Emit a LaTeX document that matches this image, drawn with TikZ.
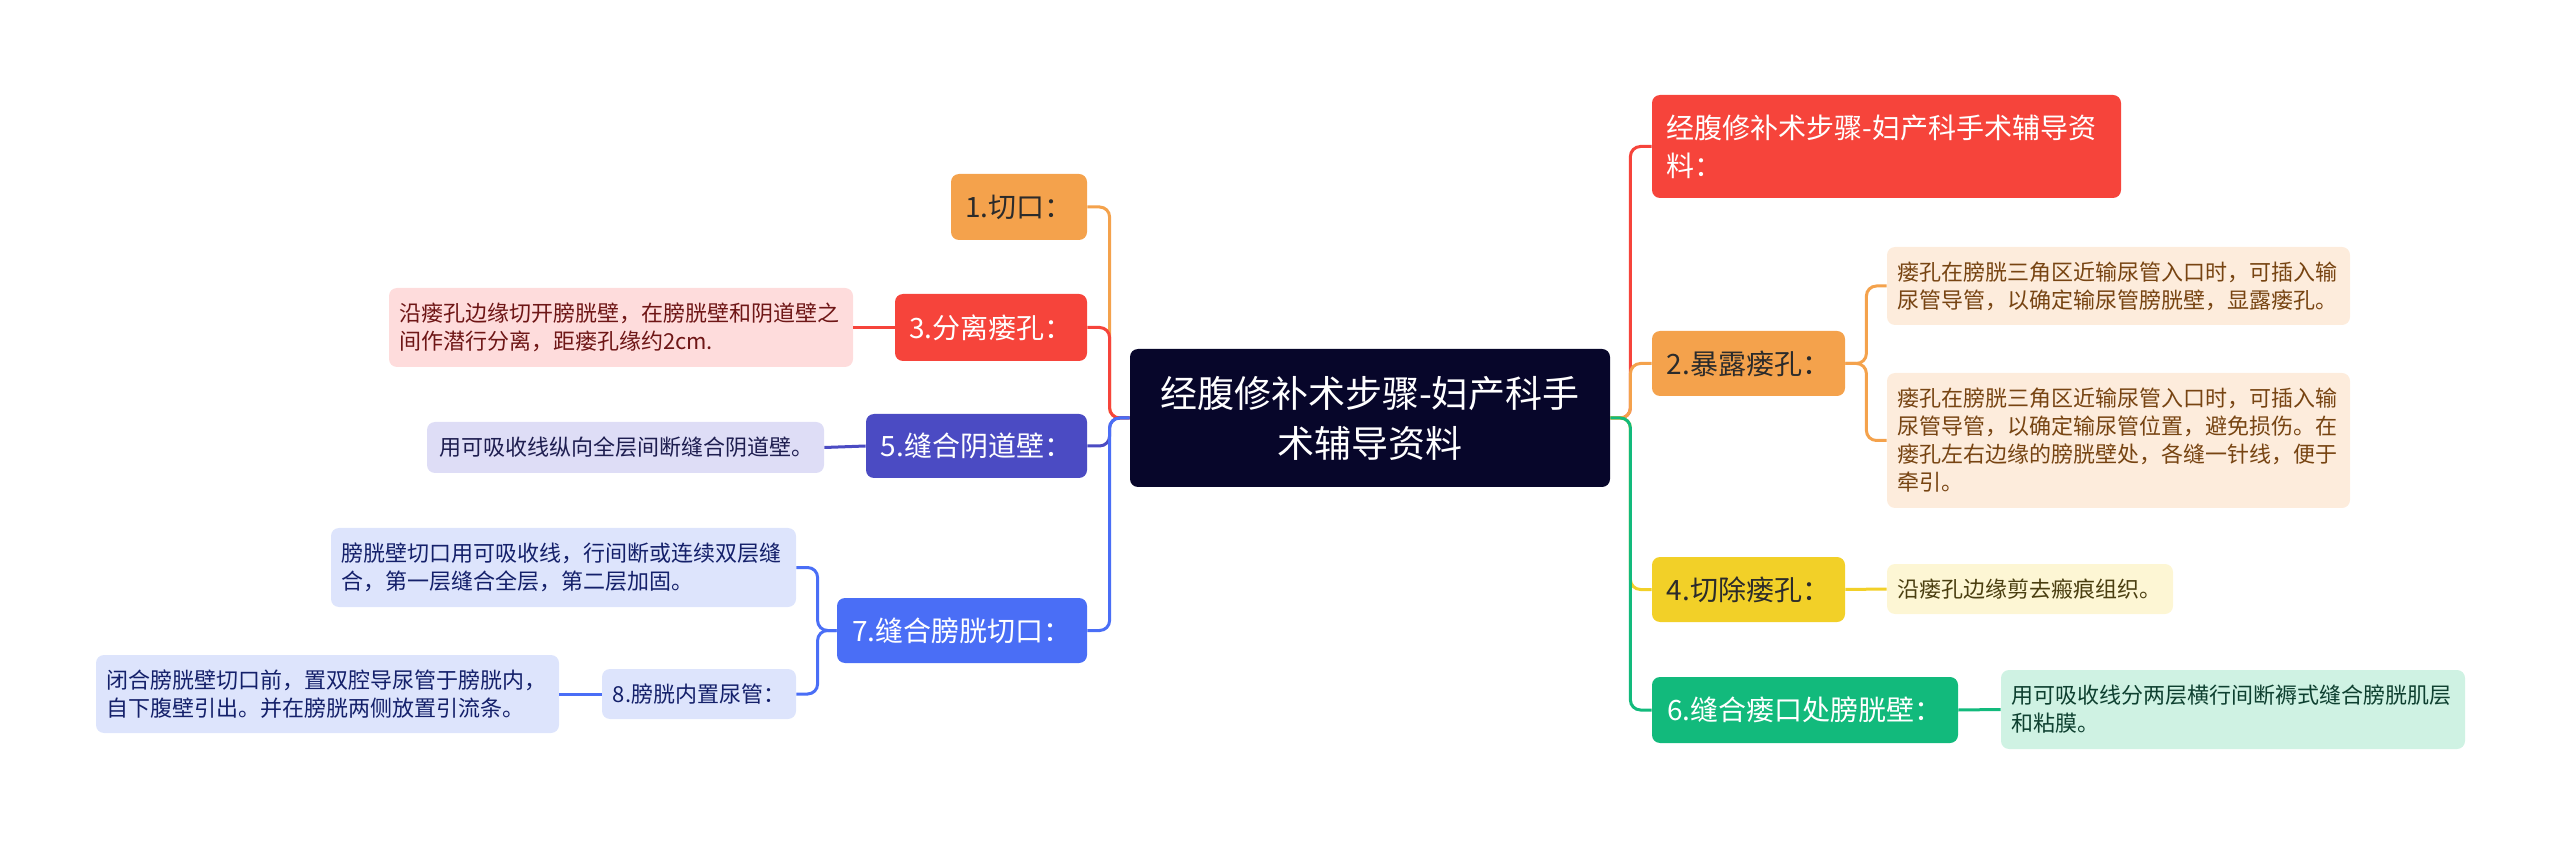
\documentclass[tikz,border=0pt]{standalone}
\usepackage{fontspec}
\setmainfont{Noto Sans CJK SC}
\definecolor{rootc}{HTML}{07062A}
\definecolor{orangec}{HTML}{F4A24C}
\definecolor{redc}{HTML}{F6443B}
\definecolor{indigoc}{HTML}{4B4BC3}
\definecolor{bluec}{HTML}{4A6EF6}
\definecolor{yellowc}{HTML}{F2D028}
\definecolor{greenc}{HTML}{12BA7C}
\definecolor{pinkc}{HTML}{FEDCDC}
\definecolor{lavc}{HTML}{DEDDF6}
\definecolor{lbluec}{HTML}{DDE4FC}
\definecolor{peachc}{HTML}{FDECDC}
\definecolor{lyelc}{HTML}{FDF6D4}
\definecolor{mintc}{HTML}{CFF2E3}
\definecolor{darkt}{HTML}{2B2B2B}
\definecolor{redt}{HTML}{6E1616}
\definecolor{indt}{HTML}{1E1E50}
\definecolor{bluet}{HTML}{14206A}
\definecolor{brownt}{HTML}{774412}
\definecolor{olivet}{HTML}{4A3E10}
\definecolor{greent}{HTML}{0E4030}
\begin{document}
\begin{tikzpicture}[x=0.5pt,y=-0.5pt,
  box/.style={rounded corners=4pt, inner sep=0pt, draw=none},
  leaf/.style={box, font=\fontsize{11}{14}\selectfont, align=left},
  lone/.style={box, font=\fontsize{14}{19}\selectfont, align=center},
  conn/.style={line width=1.5pt, rounded corners=5pt}]
\useasboundingbox (0,0) rectangle (2560,844);
% root
\node[box, fill=rootc, text=white, font=\fontsize{18.5}{25}\selectfont, align=center,
  minimum width=240pt, minimum height=69pt] (root) at (1370,418) {经腹修补术步骤-妇产科手\\术辅导资料};
% left level 1
\node[lone, fill=orangec, text=darkt, minimum width=68pt, minimum height=33pt] (n1) at (1019,207) {1.切口：};
\node[lone, fill=redc, text=white, minimum width=96pt, minimum height=33.5pt] (n3) at (991,327.5) {3.分离瘘孔：};
\node[lone, fill=indigoc, text=white, minimum width=110.5pt, minimum height=32pt] (n5) at (976.5,446) {5.缝合阴道壁：};
\node[lone, fill=bluec, text=white, minimum width=125pt, minimum height=32.5pt] (n7) at (962,630.5) {7.缝合膀胱切口：};
% left leaves
\node[leaf, fill=pinkc, text=redt, minimum width=232pt, text width=222pt, minimum height=39.5pt] (l3) at (621,327.5) {沿瘘孔边缘切开膀胱壁，在膀胱壁和阴道壁之\\间作潜行分离，距瘘孔缘约2cm.};
\node[leaf, fill=lavc, text=indt, minimum width=198.5pt, text width=186pt, minimum height=25.5pt] (l5) at (625.5,447.5) {用可吸收线纵向全层间断缝合阴道壁。};
\node[leaf, fill=lbluec, text=bluet, minimum width=232.5pt, text width=222.5pt, minimum height=39.5pt] (l7a) at (563.5,567.5) {膀胱壁切口用可吸收线，行间断或连续双层缝\\合，第一层缝合全层，第二层加固。};
\node[box, fill=lbluec, text=bluet, font=\fontsize{11}{14}\selectfont, minimum width=97pt, minimum height=25pt] (n8) at (699,694) {8.膀胱内置尿管：};
\node[leaf, fill=lbluec, text=bluet, minimum width=231.5pt, text width=221.5pt, minimum height=39pt] (l8) at (327.5,694) {闭合膀胱壁切口前，置双腔导尿管于膀胱内，\\自下腹壁引出。并在膀胱两侧放置引流条。};
% right level 1
\node[box, fill=redc, text=white, font=\fontsize{14}{19}\selectfont, align=left,
  minimum width=234.5pt, text width=220pt, minimum height=51.5pt] (nr) at (1886.5,146.5) {经腹修补术步骤-妇产科手术辅导资\\料：};
\node[lone, fill=orangec, text=darkt, minimum width=96.5pt, minimum height=32.5pt] (n2) at (1748.5,363.5) {2.暴露瘘孔：};
\node[lone, fill=yellowc, text=darkt, minimum width=96.5pt, minimum height=32.5pt] (n4) at (1748.5,589.5) {4.切除瘘孔：};
\node[lone, fill=greenc, text=white, minimum width=153pt, minimum height=33pt] (n6) at (1805,710) {6.缝合瘘口处膀胱壁：};
% right leaves
\node[leaf, fill=peachc, text=brownt, minimum width=231.5pt, text width=221.5pt, minimum height=39pt] (l2a) at (2118.5,286) {瘘孔在膀胱三角区近输尿管入口时，可插入输\\尿管导管，以确定输尿管膀胱壁，显露瘘孔。};
\node[leaf, fill=peachc, text=brownt, minimum width=231.5pt, text width=221.5pt, minimum height=67.5pt] (l2b) at (2118.5,440.5) {瘘孔在膀胱三角区近输尿管入口时，可插入输\\尿管导管，以确定输尿管位置，避免损伤。在\\瘘孔左右边缘的膀胱壁处，各缝一针线，便于\\牵引。};
\node[leaf, fill=lyelc, text=olivet, minimum width=143pt, text width=133pt, minimum height=25pt] (l4) at (2030,589) {沿瘘孔边缘剪去瘢痕组织。};
\node[leaf, fill=mintc, text=greent, minimum width=232pt, text width=222pt, minimum height=39.5pt] (l6) at (2233,709.5) {用可吸收线分两层横行间断褥式缝合膀胱肌层\\和粘膜。};
% connectors left
\draw[conn, orangec] (root.west) -- ++(-20,0) |- (n1.east);
\draw[conn, redc] (root.west) -- ++(-20,0) |- (n3.east);
\draw[conn, indigoc] (root.west) -- ++(-20,0) |- (n5.east);
\draw[conn, bluec] (root.west) -- ++(-20,0) |- (n7.east);
\draw[conn, redc] (n3.west) -- (l3.east);
\draw[conn, indigoc] (n5.west) -- (l5.east);
\draw[conn, bluec] (n7.west) -- ++(-19,0) |- (l7a.east);
\draw[conn, bluec] (n7.west) -- ++(-19,0) |- (n8.east);
\draw[conn, bluec] (n8.west) -- (l8.east);
% connectors right
\draw[conn, redc] (root.east) -- ++(20,0) |- (nr.west);
\draw[conn, orangec] (root.east) -- ++(20,0) |- (n2.west);
\draw[conn, yellowc] (root.east) -- ++(20,0) |- (n4.west);
\draw[conn, greenc] (root.east) -- ++(20,0) |- (n6.west);
\draw[conn, orangec] (n2.east) -- ++(21,0) |- (l2a.west);
\draw[conn, orangec] (n2.east) -- ++(21,0) |- (l2b.west);
\draw[conn, yellowc] (n4.east) -- (l4.west);
\draw[conn, greenc] (n6.east) -- (l6.west);
\end{tikzpicture}
\end{document}
